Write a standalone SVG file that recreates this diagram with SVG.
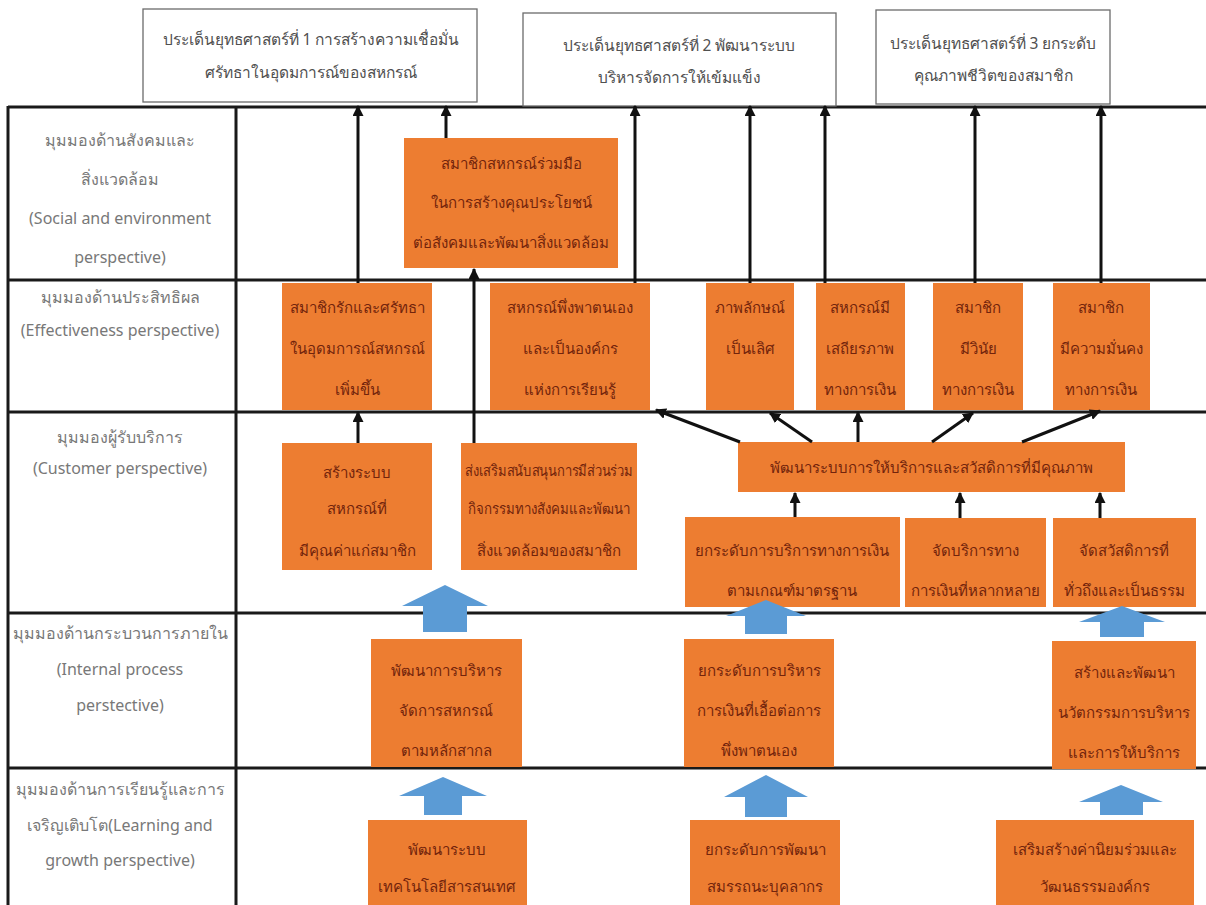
<svg xmlns="http://www.w3.org/2000/svg" width="1206" height="905" viewBox="0 0 1206 905">
<defs>
<marker id="ah" viewBox="0 0 10 10" refX="9" refY="5" markerWidth="11" markerHeight="11" markerUnits="userSpaceOnUse" orient="auto">
<path d="M0,0 L10,5 L0,10 z" fill="#111"/>
</marker>
</defs>
<style>
.grid{stroke:#1a1a1a;stroke-width:3;fill:none}
.tbox{fill:#fff;stroke:#6b6b6b;stroke-width:1.3}
.ttxt{font-family:"Noto Sans","DejaVu Sans",sans-serif;font-size:15.5px;fill:#505050;text-anchor:middle}
.ltxt{font-family:"Noto Sans","DejaVu Sans",sans-serif;font-size:16px;fill:#787878;text-anchor:middle}
.obox{fill:#ED7D31}
.otxt{font-family:"Noto Sans","DejaVu Sans",sans-serif;font-size:15px;fill:#72240c;text-anchor:middle}
.arr{stroke:#111;stroke-width:3;fill:none;marker-end:url(#ah)}
.blue{fill:#5B9BD5}
</style>
<rect x="0" y="0" width="1206" height="905" fill="#fff"/>

<g id="grid">
<line class="grid" x1="8" y1="107" x2="1206" y2="107"/>
<line class="grid" x1="8" y1="280" x2="1206" y2="280"/>
<line class="grid" x1="8" y1="412" x2="1206" y2="412"/>
<line class="grid" x1="8" y1="613" x2="1206" y2="613"/>
<line class="grid" x1="8" y1="768" x2="1206" y2="768"/>
<line class="grid" x1="8" y1="106" x2="8" y2="905"/>
<line class="grid" x1="236" y1="106" x2="236" y2="905"/>
</g>

<g id="row-labels">
<text class="ltxt" x="120" y="146">มุมมองด้านสังคมและ</text>
<text class="ltxt" x="120" y="185">สิ่งแวดล้อม</text>
<text class="ltxt" x="120" y="224">(Social and environment</text>
<text class="ltxt" x="120" y="263">perspective)</text>
<text class="ltxt" x="120" y="303">มุมมองด้านประสิทธิผล</text>
<text class="ltxt" x="120" y="336">(Effectiveness perspective)</text>
<text class="ltxt" x="120" y="443">มุมมองผู้รับบริการ</text>
<text class="ltxt" x="120" y="474">(Customer  perspective)</text>
<text class="ltxt" x="120" y="639">มุมมองด้านกระบวนการภายใน</text>
<text class="ltxt" x="120" y="675">(Internal process</text>
<text class="ltxt" x="120" y="711">perstective)</text>
<text class="ltxt" x="120" y="795">มุมมองด้านการเรียนรู้และการ</text>
<text class="ltxt" x="120" y="831">เจริญเติบโต(Learning and</text>
<text class="ltxt" x="120" y="866">growth perspective)</text>
</g>

<g id="goal1">
<rect class="tbox" x="143" y="9" width="334" height="93"/>
<text class="ttxt" x="311" y="45">ประเด็นยุทธศาสตร์ที่ 1 การสร้างความเชื่อมั่น</text>
<text class="ttxt" x="311" y="78">ศรัทธาในอุดมการณ์ของสหกรณ์</text>
</g>
<g id="goal2">
<rect class="tbox" x="523" y="13" width="313" height="93"/>
<text class="ttxt" x="679" y="51">ประเด็นยุทธศาสตร์ที่ 2 พัฒนาระบบ</text>
<text class="ttxt" x="679" y="83">บริหารจัดการให้เข้มแข็ง</text>
</g>
<g id="goal3">
<rect class="tbox" x="876" y="10" width="234" height="94"/>
<text class="ttxt" x="993" y="49">ประเด็นยุทธศาสตร์ที่ 3 ยกระดับ</text>
<text class="ttxt" x="993" y="81">คุณภาพชีวิตของสมาชิก</text>
</g>

<g id="s1">
<rect class="obox" x="404" y="138" width="214" height="130"/>
<text class="otxt" x="511" y="169">สมาชิกสหกรณ์ร่วมมือ</text>
<text class="otxt" x="511" y="208">ในการสร้างคุณประโยชน์</text>
<text class="otxt" x="511" y="248">ต่อสังคมและพัฒนาสิ่งแวดล้อม</text>
</g>

<g id="e1">
<rect class="obox" x="282" y="283" width="150" height="127"/>
<text class="otxt" x="357" y="313">สมาชิกรักและศรัทธา</text>
<text class="otxt" x="357" y="354">ในอุดมการณ์สหกรณ์</text>
<text class="otxt" x="357" y="395">เพิ่มขึ้น</text>
</g>
<g id="e2">
<rect class="obox" x="490" y="283" width="160" height="127"/>
<text class="otxt" x="570" y="313">สหกรณ์พึ่งพาตนเอง</text>
<text class="otxt" x="570" y="354">และเป็นองค์กร</text>
<text class="otxt" x="570" y="395">แห่งการเรียนรู้</text>
</g>
<g id="e3">
<rect class="obox" x="706" y="283" width="88" height="127"/>
<text class="otxt" x="750" y="313">ภาพลักษณ์</text>
<text class="otxt" x="750" y="354">เป็นเลิศ</text>
</g>
<g id="e4">
<rect class="obox" x="816" y="283" width="89" height="127"/>
<text class="otxt" x="860" y="313">สหกรณ์มี</text>
<text class="otxt" x="860" y="354">เสถียรภาพ</text>
<text class="otxt" x="860" y="395">ทางการเงิน</text>
</g>
<g id="e5">
<rect class="obox" x="933" y="283" width="90" height="127"/>
<text class="otxt" x="978" y="313">สมาชิก</text>
<text class="otxt" x="978" y="354">มีวินัย</text>
<text class="otxt" x="978" y="395">ทางการเงิน</text>
</g>
<g id="e6">
<rect class="obox" x="1053" y="283" width="97" height="127"/>
<text class="otxt" x="1101" y="313">สมาชิก</text>
<text class="otxt" x="1101" y="354">มีความมั่นคง</text>
<text class="otxt" x="1101" y="395">ทางการเงิน</text>
</g>

<g id="c1">
<rect class="obox" x="282" y="443" width="150" height="127"/>
<text class="otxt" x="357" y="478">สร้างระบบ</text>
<text class="otxt" x="357" y="514">สหกรณ์ที่</text>
<text class="otxt" x="357" y="556">มีคุณค่าแก่สมาชิก</text>
</g>
<g id="c2">
<rect class="obox" x="461" y="443" width="176" height="127"/>
<text class="otxt" x="549" y="476" textLength="168" lengthAdjust="spacingAndGlyphs">ส่งเสริมสนับสนุนการมีส่วนร่วม</text>
<text class="otxt" x="549" y="514" textLength="162" lengthAdjust="spacingAndGlyphs">กิจกรรมทางสังคมและพัฒนา</text>
<text class="otxt" x="549" y="556">สิ่งแวดล้อมของสมาชิก</text>
</g>
<g id="c3">
<rect class="obox" x="738" y="442" width="387" height="50"/>
<text class="otxt" x="931" y="473">พัฒนาระบบการให้บริการและสวัสดิการที่มีคุณภาพ</text>
</g>
<g id="c4">
<rect class="obox" x="685" y="517" width="215" height="90"/>
<text class="otxt" x="792" y="556">ยกระดับการบริการทางการเงิน</text>
<text class="otxt" x="792" y="596">ตามเกณฑ์มาตรฐาน</text>
</g>
<g id="c5">
<rect class="obox" x="905" y="518" width="141" height="89"/>
<text class="otxt" x="975" y="556">จัดบริการทาง</text>
<text class="otxt" x="975" y="596">การเงินที่หลากหลาย</text>
</g>
<g id="c6">
<rect class="obox" x="1053" y="518" width="143" height="89"/>
<text class="otxt" x="1124" y="556">จัดสวัสดิการที่</text>
<text class="otxt" x="1124" y="596">ทั่วถึงและเป็นธรรม</text>
</g>

<g id="i1">
<rect class="obox" x="371" y="639" width="151" height="128"/>
<text class="otxt" x="446" y="676">พัฒนาการบริหาร</text>
<text class="otxt" x="446" y="716">จัดการสหกรณ์</text>
<text class="otxt" x="446" y="756">ตามหลักสากล</text>
</g>
<g id="i2">
<rect class="obox" x="684" y="639" width="150" height="128"/>
<text class="otxt" x="759" y="676">ยกระดับการบริหาร</text>
<text class="otxt" x="759" y="716">การเงินที่เอื้อต่อการ</text>
<text class="otxt" x="759" y="756">พึ่งพาตนเอง</text>
</g>
<g id="i3">
<rect class="obox" x="1052" y="641" width="144" height="128"/>
<text class="otxt" x="1124" y="678">สร้างและพัฒนา</text>
<text class="otxt" x="1124" y="718">นวัตกรรมการบริหาร</text>
<text class="otxt" x="1124" y="758">และการให้บริการ</text>
</g>

<g id="l1">
<rect class="obox" x="368" y="820" width="159" height="90"/>
<text class="otxt" x="447" y="855">พัฒนาระบบ</text>
<text class="otxt" x="447" y="892">เทคโนโลยีสารสนเทศ</text>
</g>
<g id="l2">
<rect class="obox" x="690" y="820" width="150" height="90"/>
<text class="otxt" x="765" y="855">ยกระดับการพัฒนา</text>
<text class="otxt" x="765" y="892">สมรรถนะบุคลากร</text>
</g>
<g id="l3">
<rect class="obox" x="996" y="820" width="198" height="90"/>
<text class="otxt" x="1095" y="855">เสริมสร้างค่านิยมร่วมและ</text>
<text class="otxt" x="1095" y="892">วัฒนธรรมองค์กร</text>
</g>

<g id="connectors">
<line class="arr" x1="358" y1="283" x2="358" y2="106"/>
<line class="arr" x1="446" y1="138" x2="446" y2="106"/>
<line class="arr" x1="635" y1="283" x2="635" y2="106"/>
<line class="arr" x1="750" y1="283" x2="750" y2="106"/>
<line class="arr" x1="825" y1="283" x2="825" y2="106"/>
<line class="arr" x1="975" y1="283" x2="975" y2="106"/>
<line class="arr" x1="1101" y1="283" x2="1101" y2="106"/>
<line class="arr" x1="358" y1="443" x2="358" y2="412"/>
<line class="arr" x1="474" y1="443" x2="474" y2="269"/>
<line class="arr" x1="740" y1="442" x2="656" y2="410"/>
<line class="arr" x1="812" y1="442" x2="770" y2="413"/>
<line class="arr" x1="858" y1="442" x2="858" y2="412"/>
<line class="arr" x1="932" y1="442" x2="973" y2="413"/>
<line class="arr" x1="1022" y1="442" x2="1100" y2="411"/>
<line class="arr" x1="795" y1="517" x2="795" y2="493"/>
<line class="arr" x1="960" y1="518" x2="960" y2="493"/>
<line class="arr" x1="1100" y1="518" x2="1100" y2="493"/>
<polygon class="blue" points="445,585 488,606 467,606 467,632 423,632 423,606 402,606"/>
<polygon class="blue" points="766,600 806,616 787,616 787,634 745,634 745,616 726,616"/>
<polygon class="blue" points="1122,606 1165,622 1144,622 1144,637 1100,637 1100,622 1079,622"/>
<polygon class="blue" points="443,777 487,796 462,796 462,815 424,815 424,796 399,796"/>
<polygon class="blue" points="766,775 808,797 787,797 787,817 745,817 745,797 724,797"/>
<polygon class="blue" points="1121,785 1163,802 1143,802 1143,815 1100,815 1100,802 1079,802"/>
</g>
</svg>
